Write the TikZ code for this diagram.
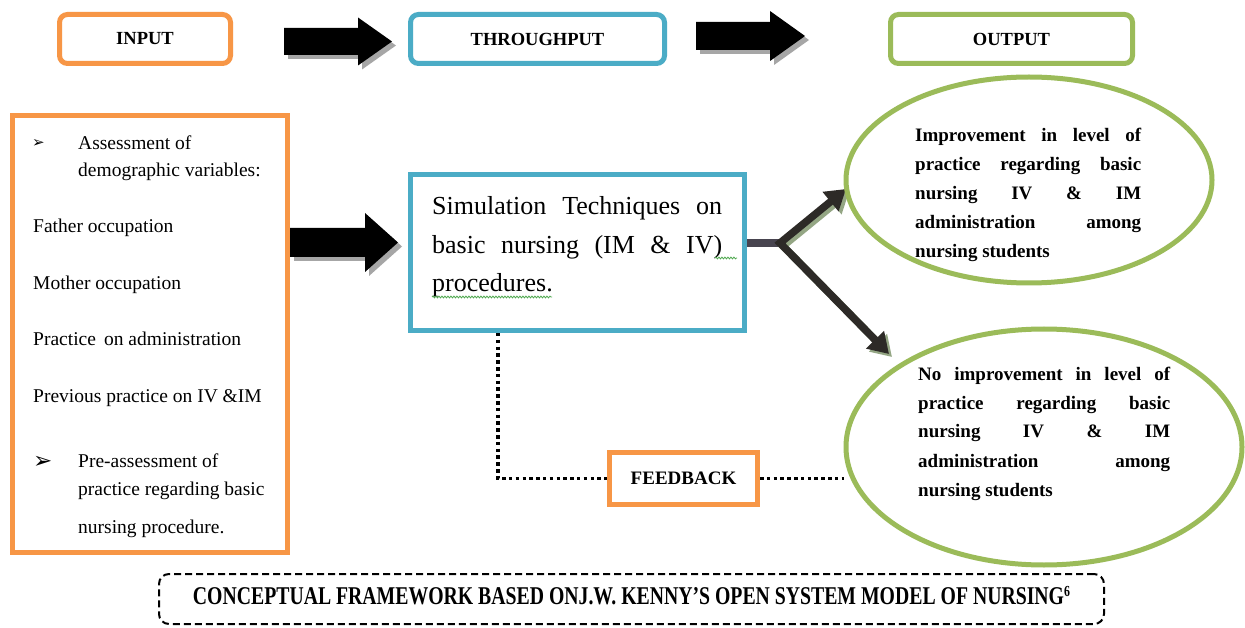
\documentclass[tikz,border=0pt]{standalone}
\usepackage{fontspec}
\setmainfont{Liberation Serif}
\newfontfamily\symfont{DejaVu Sans}
\usetikzlibrary{arrows.meta,shapes.geometric,backgrounds,decorations.pathmorphing}

\definecolor{inorange}{HTML}{F79646}
\definecolor{thrublue}{HTML}{4BACC6}
\definecolor{outgreen}{HTML}{9BBB59}
\definecolor{shadowgray}{HTML}{A6A6A6}
\definecolor{linkgray}{HTML}{48444F}
\definecolor{arrowshadow}{HTML}{94A684}
\definecolor{spellgreen}{HTML}{4FA84F}

\hyphenpenalty=10000
\exhyphenpenalty=10000
\tolerance=10000

% block arrow: #1 tail x, #2 head base x, #3 tip x, #4 centre y, #5 shaft half, #6 head half
\newcommand\blockarr[6]{%
  \fill[shadowgray] (#1+4,#4-#5+4) -- (#2+4,#4-#5+4) -- (#2+4,#4-#6+4) -- (#3+4,#4+4)
    -- (#2+4,#4+#6+4) -- (#2+4,#4+#5+4) -- (#1+4,#4+#5+4) -- cycle;
  \fill[black] (#1,#4-#5) -- (#2,#4-#5) -- (#2,#4-#6) -- (#3,#4)
    -- (#2,#4+#6) -- (#2,#4+#5) -- (#1,#4+#5) -- cycle;}

\tikzset{
  head/.style={draw=#1, line width=5pt, rounded corners=8pt, fill=white,
    minimum height=49pt, inner sep=0pt,
    font=\bfseries\fontsize{18.5}{20}\selectfont},
  panel/.style={draw=#1, line width=5pt, fill=white, inner sep=0pt},
  itemtext/.style={anchor=base west, inner sep=0pt, font=\fontsize{19.5}{22}\selectfont},
  bullet/.style={anchor=base west, inner sep=0pt, font=\symfont\fontsize{#1}{#1}\selectfont},
  result/.style={ellipse, draw=outgreen, line width=5pt, fill=white, inner sep=0pt},
  resulttext/.style={anchor=base west, inner sep=0pt, align=left},
  dotline/.style={line width=3.8pt, dash pattern=on 3.5pt off 3.3pt, black},
  outarrow/.style={line width=7.5pt, line join=miter,
    {Triangle[length=20pt,width=24pt]}-{Triangle[length=20pt,width=24pt]}},
  spell/.style={spellgreen, line width=0.8pt,
    decorate, decoration={snake, segment length=3pt, amplitude=0.9pt}}
}

\begin{document}
\begin{tikzpicture}[x=1pt, y=-1pt]
\useasboundingbox (0,0) rectangle (1245,628);
\begin{scope}[on background layer]
  \fill[white] (0,0) rectangle (1245,628);
\end{scope}

% top row: the three stages
\node[head=inorange, minimum width=171pt] (input) at (145,39) {INPUT};
\node[head=thrublue, minimum width=254pt] (through) at (537.5,39) {THROUGHPUT};
\node[head=outgreen, minimum width=242pt] (output) at (1011.5,39) {OUTPUT};
\blockarr{284}{358}{392}{41.5}{13.5}{24}
\blockarr{696}{770}{805}{36}{14}{25}

% input panel
\node[panel=inorange, minimum width=275pt, minimum height=437pt] (inbox) at (150,334) {};
\node[bullet=15] (b1) at (32,148) {➢};
\node[itemtext] (i1) at (78,150) {Assessment of};
\node[itemtext] (i2) at (78,177) {demographic variables:};
\node[itemtext] (i3) at (33,233) {Father occupation};
\node[itemtext] (i4) at (33,290) {Mother occupation};
\node[itemtext] (i5) at (33,345) {Practice\, on administration};
\node[itemtext] (i6) at (33,402) {Previous practice on IV \&IM};
\node[bullet=23] (b2) at (33,468) {➢};
\node[itemtext] (i7) at (78,467) {Pre-assessment of};
\node[itemtext] (i8) at (78,495) {practice regarding basic};
\node[itemtext] (i9) at (78,533) {nursing procedure.};

\blockarr{290}{365}{398}{242.5}{14.5}{29.5}

% throughput panel
\node[panel=thrublue, minimum width=334pt, minimum height=156pt] (sim) at (577.5,252.5) {};
\node[resulttext] (simtext) at (432,215)
  {\parbox[t]{290pt}{\fontsize{26}{38.5}\selectfont
   Simulation Techniques on\linebreak basic nursing (IM \& IV)\linebreak procedures.}};
\draw[spell] (432,297) -- (552,297);
\draw[spell] (715,258) -- (737,258);

% feedback
\node[panel=inorange, minimum width=148pt, minimum height=52pt,
      font=\bfseries\fontsize{19}{20}\selectfont] (fb) at (683.5,478.5) {FEEDBACK};

% output ellipses
\node[result, minimum width=366pt, minimum height=206pt] (e1) at (1029,180) {};
\node[result, minimum width=396pt, minimum height=236pt] (e2) at (1044,447) {};
\node[resulttext] (t1) at (915,142)
  {\parbox[t]{226pt}{\bfseries\fontsize{19}{29}\selectfont
   Improvement in level of\linebreak practice regarding basic\linebreak
   nursing IV \& IM\linebreak administration among\linebreak nursing students}};
\node[resulttext] (t2) at (918,380)
  {\parbox[t]{252pt}{\bfseries\fontsize{19}{29}\selectfont
   No improvement in level of\linebreak practice regarding basic\linebreak
   nursing IV \& IM\linebreak administration among\linebreak nursing students}};

% connectors
\coordinate (junction) at (780,243);
\coordinate (tipA) at (846,189);
\coordinate (tipB) at (889,354);
\begin{scope}[on background layer]
  \draw[line width=8pt, linkgray] (sim.east |- junction) -- (junction);
  \draw[outarrow, arrowshadow] ([shift={(3,3)}]tipA) -- ([shift={(3,3)}]junction) -- ([shift={(3,3)}]tipB);
  \draw[outarrow, black!90!olive] (tipA) -- (junction) -- (tipB);
  \draw[dotline] ([xshift=90pt]sim.south west) |- (fb.west);
  \draw[dotline] (fb.east) -- (fb.east -| e2.west);
\end{scope}

% caption
\node[draw, dashed, line width=2pt, dash pattern=on 7pt off 4pt, rounded corners=10pt,
      minimum width=945pt, minimum height=50pt, inner sep=0pt] (capbox) at (631.5,599) {};
\node[anchor=base, inner sep=0pt] (captext) at (631.5,604)
  {\resizebox{877pt}{17pt}{\bfseries CONCEPTUAL FRAMEWORK BASED ONJ.W. KENNY’S OPEN SYSTEM MODEL OF NURSING\raisebox{0.3em}[0pt][0pt]{\fontsize{6}{6}\selectfont 6}}};
\end{tikzpicture}
\end{document}
